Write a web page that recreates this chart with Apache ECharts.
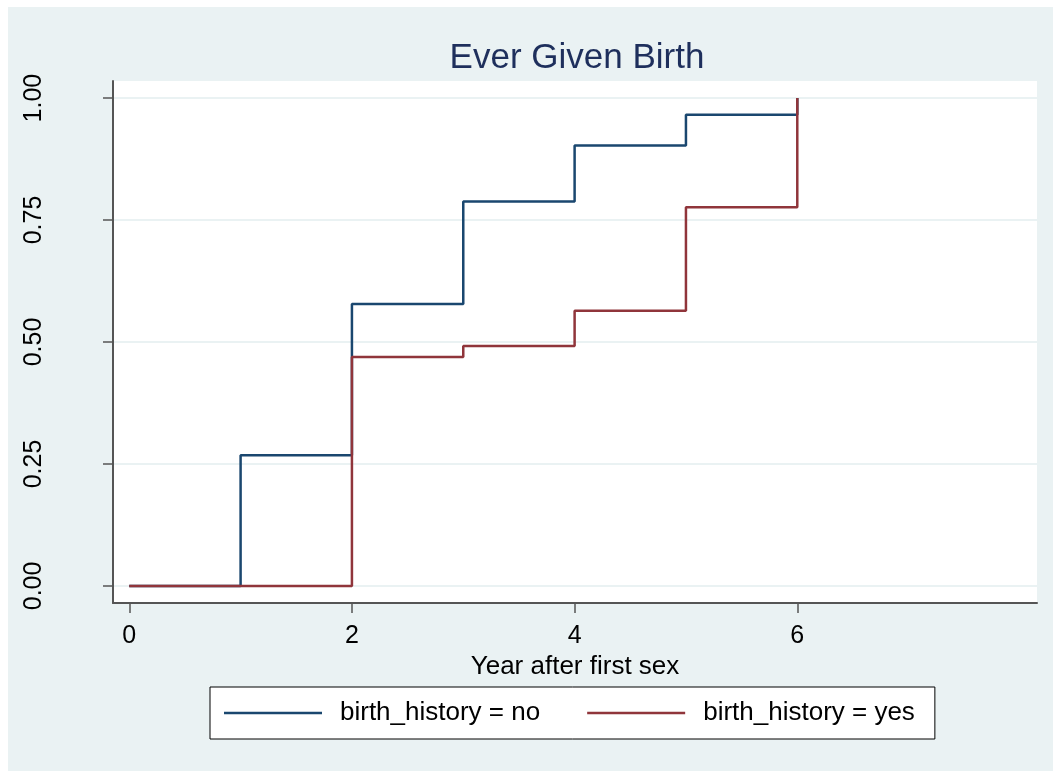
<!DOCTYPE html>
<html>
  <head>
    <meta charset="UTF-8" />
    <title>Ever Given Birth</title>
    <script src="https://cdn.jsdelivr.net/npm/echarts@6/dist/echarts.min.js"></script>
    <style>
      body { margin: 0; background: #ffffff; }
      #birthChart { position: absolute; left: 8px; top: 7px; width: 1045px; height: 764px; }
    </style>
  </head>
  <body>
    <div id="birthChart"></div>
  </body>
  <script>
    // failure curves, one step per year
    let yearsNo = [0, 1, 2, 3, 4, 5, 6];
    let failNo = [0, 0.268, 0.578, 0.788, 0.903, 0.966, 1.0];
    let yearsYes = [0, 2, 3, 4, 5, 6];
    let failYes = [0, 0.469, 0.492, 0.564, 0.776, 1.0];
    let xTicks = [0, 2, 4, 6];
    let yTicks = [0, 0.25, 0.5, 0.75, 1];
    let seriesNames = ['birth_history = no', 'birth_history = yes'];

    let myChart = echarts.init(document.getElementById('birthChart'));
    let font = 'Liberation Sans, Arial, sans-serif';

    myChart.setOption({
      backgroundColor: '#eaf2f3',
      animation: false,
      title: {
        text: 'Ever Given Birth',
        left: 564,
        textAlign: 'center',
        top: 29,
        textStyle: { fontFamily: font, fontSize: 35, fontWeight: 'normal', color: '#1e2f5c' }
      },
      legend: {
        data: seriesNames,
        left: 202,
        top: 680,
        orient: 'horizontal',
        icon: 'rect',
        backgroundColor: '#ffffff',
        borderColor: '#000000',
        borderWidth: 1,
        borderRadius: 0,
        padding: [13, 20, 13, 14],
        itemWidth: 98,
        itemHeight: 2.5,
        itemGap: 47,
        textStyle: { fontFamily: font, fontSize: 26, color: '#000000', padding: [0, 0, 0, 13] }
      },
      grid: {
        left: 105,
        top: 74,
        right: 16,
        bottom: 168,
        show: true,
        backgroundColor: '#ffffff',
        borderWidth: 0
      },
      xAxis: {
        type: 'value',
        min: -0.146,
        max: 8.153,
        name: 'Year after first sex',
        nameLocation: 'middle',
        nameGap: 42,
        nameTextStyle: { fontFamily: font, fontSize: 26, color: '#000000' },
        axisLine: { show: true, onZero: false, lineStyle: { color: '#555555', width: 2 } },
        axisTick: { show: true, length: 10, customValues: xTicks, lineStyle: { color: '#555555', width: 1.5 } },
        axisLabel: { customValues: xTicks, margin: 21, fontFamily: font, fontSize: 25, color: '#000000' },
        splitLine: { show: false }
      },
      yAxis: {
        type: 'value',
        min: -0.035,
        max: 1.035,
        axisLine: { show: true, onZero: false, lineStyle: { color: '#555555', width: 2 } },
        axisTick: { show: true, length: 10, customValues: yTicks, lineStyle: { color: '#555555', width: 1.5 } },
        axisLabel: {
          customValues: yTicks,
          rotate: 90,
          margin: 66,
          fontFamily: font,
          fontSize: 25,
          color: '#000000',
          formatter: v => v.toFixed(2)
        },
        splitLine: { show: true, lineStyle: { color: '#eaf2f3', width: 2 } }
      },
      series: [
        {
          name: seriesNames[0],
          type: 'line',
          step: 'end',
          symbol: 'none',
          color: '#1a476f',
          lineStyle: { width: 2.5, color: '#1a476f' },
          data: yearsNo.map((x, i) => [x, failNo[i]])
        },
        {
          name: seriesNames[1],
          type: 'line',
          step: 'end',
          symbol: 'none',
          color: '#90353b',
          lineStyle: { width: 2.5, color: '#90353b' },
          data: yearsYes.map((x, i) => [x, failYes[i]])
        }
      ]
    });
  </script>
</html>
